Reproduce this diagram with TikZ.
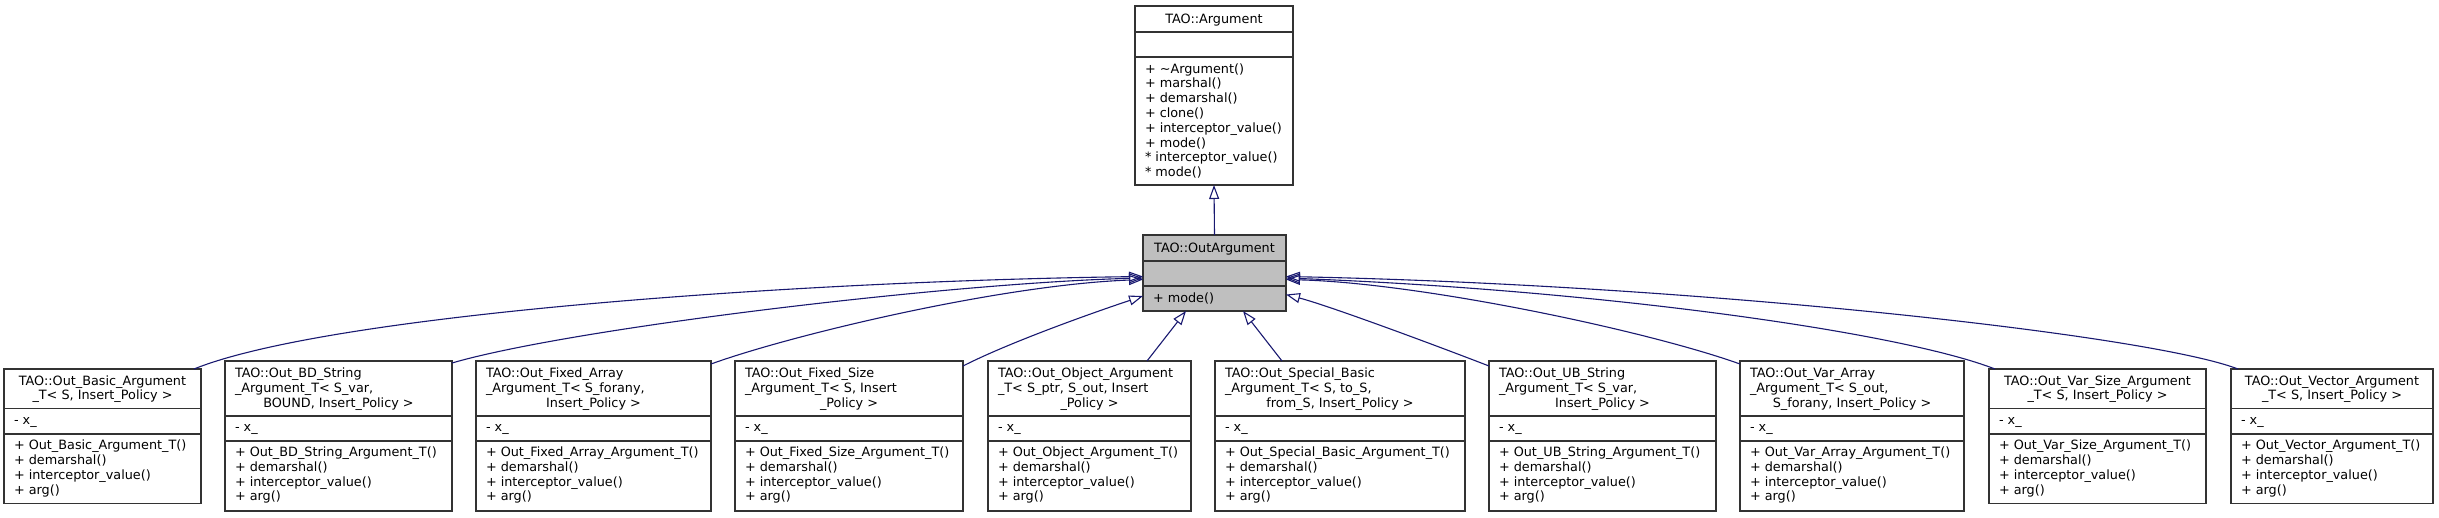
\documentclass[tikz,border=0pt]{standalone}
\usepackage{fontspec}
\setmainfont{DejaVu Sans}
\usetikzlibrary{arrows.meta,calc}
\definecolor{edgeblue}{HTML}{191970}
\definecolor{boxgray}{HTML}{BFBFBF}
\definecolor{boxline}{HTML}{333333}
\tikzset{
  cls/.style={draw=boxline, line width=1.3pt, fill=white, inner sep=0pt, outer sep=0pt, anchor=north west},
  div/.style={draw=boxline, line width=1.3pt},
  tl/.style={inner sep=0pt, outer sep=0pt, anchor=base west, font=\fontsize{12.8}{14.8}\selectfont},
  tc/.style={inner sep=0pt, outer sep=0pt, anchor=base, font=\fontsize{12.8}{14.8}\selectfont},
  edge/.style={draw=edgeblue, line width=1.1pt, -{Triangle[open, length=14pt, width=10pt]}},
}
% three-line title class box
\newcommand\clsA[7]{%
  \node[cls, minimum width={(#3-#2)*1pt}, minimum height=150pt] (#1) at (#2,361) {};
  \draw[div] (#2,416) -- (#3,416);
  \draw[div] (#2,441) -- (#3,441);
  \node[tl] (#1-t1) at ({#2+10},377.5) {#4};
  \node[tl] (#1-t2) at ({#2+10},392.3) {#5};
  \node[tc] (#1-t3) at ({(#2+#3)/2},407.1) {#6};
  \node[tl] (#1-a) at ({#2+10},431.5) {- x\_};
  \node[tl] (#1-m1) at ({#2+10},456.5) {+ #7};
  \node[tl] (#1-m2) at ({#2+10},471.3) {+ demarshal()};
  \node[tl] (#1-m3) at ({#2+10},486.1) {+ interceptor\_value()};
  \node[tl] (#1-m4) at ({#2+10},500.9) {+ arg()};
}
% two-line title class box
\newcommand\clsB[6]{%
  \node[cls, minimum width={(#3-#2)*1pt}, minimum height=134.5pt] (#1) at (#2,369) {};
  \draw[div] (#2,408.5) -- (#3,408.5);
  \draw[div] (#2,434) -- (#3,434);
  \node[tc] (#1-t1) at ({(#2+#3)/2},385) {#4};
  \node[tc] (#1-t2) at ({(#2+#3)/2},399.8) {#5};
  \node[tl] (#1-a) at ({#2+10},424.3) {- x\_};
  \node[tl] (#1-m1) at ({#2+10},449.7) {+ #6};
  \node[tl] (#1-m2) at ({#2+10},464.5) {+ demarshal()};
  \node[tl] (#1-m3) at ({#2+10},479.3) {+ interceptor\_value()};
  \node[tl] (#1-m4) at ({#2+10},494.1) {+ arg()};
}
\begin{document}
\begin{tikzpicture}[x=1pt, y=-1pt]
\useasboundingbox (0,0) rectangle (2439,517);
\fill[white] (0,0) rectangle (2439,517);

% TAO::Argument
\node[cls, minimum width=158pt, minimum height=179pt] (arg) at (1135,6) {};
\draw[div] (1135,32) -- (1293,32);
\draw[div] (1135,57) -- (1293,57);
\node[tc] (arg-t) at (1214,23) {TAO::Argument};
\node[tl] (arg-m1) at (1145,73) {+ \textasciitilde Argument()};
\node[tl] (arg-m2) at (1145,87.8) {+ marshal()};
\node[tl] (arg-m3) at (1145,102.6) {+ demarshal()};
\node[tl] (arg-m4) at (1145,117.4) {+ clone()};
\node[tl] (arg-m5) at (1145,132.2) {+ interceptor\_value()};
\node[tl] (arg-m6) at (1145,147) {+ mode()};
\node[tl] (arg-m7) at (1145,161.8) {* interceptor\_value()};
\node[tl] (arg-m8) at (1145,176.6) {* mode()};

% TAO::OutArgument
\node[cls, fill=boxgray, minimum width=143pt, minimum height=76pt] (oa) at (1143,235) {};
\draw[div] (1143,261) -- (1286,261);
\draw[div] (1143,286) -- (1286,286);
\node[tc] (oa-t) at (1214.5,252) {TAO::OutArgument};
\node[tl] (oa-m1) at (1153,302) {+ mode()};

% derived classes
\clsB{b1}{4}{201}{TAO::Out\_Basic\_Argument}{\_T< S, Insert\_Policy >}{Out\_Basic\_Argument\_T()}
\clsA{b2}{225}{452}{TAO::Out\_BD\_String}{\_Argument\_T< S\_var,}{BOUND, Insert\_Policy >}{Out\_BD\_String\_Argument\_T()}
\clsA{b3}{476}{711}{TAO::Out\_Fixed\_Array}{\_Argument\_T< S\_forany,}{Insert\_Policy >}{Out\_Fixed\_Array\_Argument\_T()}
\clsA{b4}{735}{963}{TAO::Out\_Fixed\_Size}{\_Argument\_T< S, Insert}{\_Policy >}{Out\_Fixed\_Size\_Argument\_T()}
\clsA{b5}{988}{1191}{TAO::Out\_Object\_Argument}{\_T< S\_ptr, S\_out, Insert}{\_Policy >}{Out\_Object\_Argument\_T()}
\clsA{b6}{1215}{1465}{TAO::Out\_Special\_Basic}{\_Argument\_T< S, to\_S,}{from\_S, Insert\_Policy >}{Out\_Special\_Basic\_Argument\_T()}
\clsA{b7}{1489}{1716}{TAO::Out\_UB\_String}{\_Argument\_T< S\_var,}{Insert\_Policy >}{Out\_UB\_String\_Argument\_T()}
\clsA{b8}{1740}{1964}{TAO::Out\_Var\_Array}{\_Argument\_T< S\_out,}{S\_forany, Insert\_Policy >}{Out\_Var\_Array\_Argument\_T()}
\clsB{b9}{1989}{2206}{TAO::Out\_Var\_Size\_Argument}{\_T< S, Insert\_Policy >}{Out\_Var\_Size\_Argument\_T()}
\clsB{b10}{2231}{2433}{TAO::Out\_Vector\_Argument}{\_T< S, Insert\_Policy >}{Out\_Vector\_Argument\_T()}

% inheritance edges
\draw[edge] (oa.north) -- (arg.south);
\draw[edge] ($(b1.north east)+(-7,0)$) .. controls (330,314) and (800,281) .. ($(oa.west)+(0,3.5)$);
\draw[edge] ($(b2.north east)+(0,2)$) .. controls (572,328) and (950,283) .. ($(oa.west)+(0,5)$);
\draw[edge] ($(b3.north east)+(0,3)$) .. controls (791,335) and (1000,285) .. ($(oa.west)+(0,6.5)$);
\draw[edge] ($(b4.north east)+(0,5)$) .. controls (1010,342) and (1095,312) .. ($(oa.west)+(0,23)$);
\draw[edge] ($(b5.north)+(57.5,0)$) -- ($(oa.south)+(-28.5,0)$);
\draw[edge] ($(b6.north)+(-58,0)$) -- ($(oa.south)+(28.5,0)$);
\draw[edge] ($(b7.north west)+(0,5)$) .. controls (1440,347) and (1330,306) .. ($(oa.east)+(0,21.5)$);
\draw[edge] ($(b8.north west)+(0,3)$) .. controls (1645,330) and (1420,283) .. ($(oa.east)+(0,6.5)$);
\draw[edge] ($(b9.north west)+(6,0)$) .. controls (1900,332) and (1600,290) .. ($(oa.east)+(0,5)$);
\draw[edge] ($(b10.north west)+(7,0)$) .. controls (2150,335) and (1700,285) .. ($(oa.east)+(0,3.5)$);
\end{tikzpicture}
\end{document}
